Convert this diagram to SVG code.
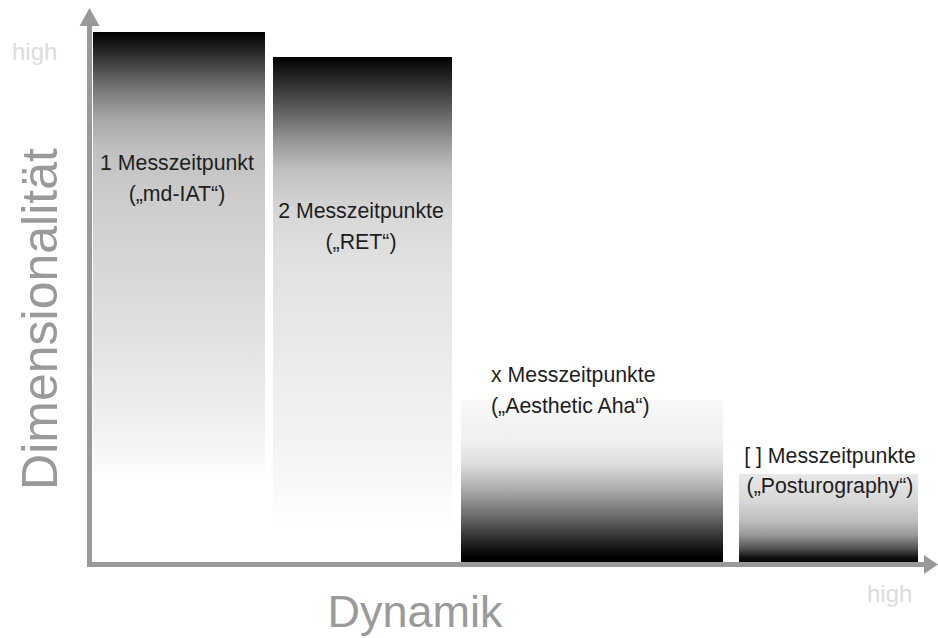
<svg xmlns="http://www.w3.org/2000/svg" width="938" height="638" viewBox="0 0 938 638">
  <style>
    .lbl { font-family: "Liberation Sans", Arial, sans-serif; font-size: 21.3px; fill: #1e1e1e; }
    .mid { text-anchor: middle; }
    .axis-title { font-family: "Liberation Sans", Arial, sans-serif; fill: #9a9a9a; text-anchor: middle; }
    .high { font-family: "Liberation Sans", Arial, sans-serif; font-size: 24px; fill: #dcdcdc; }
    .axis { stroke: #999999; stroke-width: 5; fill: none; }
  </style>
  <defs>
    <!-- tall bars: black at the top, fading to white towards the baseline -->
    <linearGradient id="fade1" gradientUnits="userSpaceOnUse" x1="0" y1="32" x2="0" y2="562">
      <stop offset="0" stop-color="#000000"/>
      <stop offset="0.053" stop-color="#3a3a3a"/>
      <stop offset="0.11" stop-color="#7a7a7a"/>
      <stop offset="0.166" stop-color="#a8a8a8"/>
      <stop offset="0.223" stop-color="#c0c0c0"/>
      <stop offset="0.317" stop-color="#cdcdcd"/>
      <stop offset="0.506" stop-color="#dcdcdc"/>
      <stop offset="0.694" stop-color="#ececec"/>
      <stop offset="0.789" stop-color="#f6f6f6"/>
      <stop offset="0.85" stop-color="#ffffff"/>
      <stop offset="1" stop-color="#ffffff"/>
    </linearGradient>
    <linearGradient id="fade2" gradientUnits="userSpaceOnUse" x1="0" y1="57" x2="0" y2="562">
      <stop offset="0" stop-color="#000000"/>
      <stop offset="0.046" stop-color="#2a2a2a"/>
      <stop offset="0.105" stop-color="#5e5e5e"/>
      <stop offset="0.164" stop-color="#959595"/>
      <stop offset="0.224" stop-color="#c0c0c0"/>
      <stop offset="0.303" stop-color="#d6d6d6"/>
      <stop offset="0.402" stop-color="#e1e1e1"/>
      <stop offset="0.580" stop-color="#eaeaea"/>
      <stop offset="0.778" stop-color="#f4f4f4"/>
      <stop offset="0.937" stop-color="#ffffff"/>
      <stop offset="1" stop-color="#ffffff"/>
    </linearGradient>
    <!-- low bars: light on top, darkening to black at the baseline -->
    <linearGradient id="fade3" gradientUnits="userSpaceOnUse" x1="0" y1="400" x2="0" y2="562">
      <stop offset="0" stop-color="#f8f8f8"/>
      <stop offset="0.25" stop-color="#f0f0f0"/>
      <stop offset="0.40" stop-color="#dcdcdc"/>
      <stop offset="0.556" stop-color="#aaaaaa"/>
      <stop offset="0.71" stop-color="#6e6e6e"/>
      <stop offset="0.864" stop-color="#2a2a2a"/>
      <stop offset="0.975" stop-color="#000000"/>
      <stop offset="1" stop-color="#000000"/>
    </linearGradient>
    <linearGradient id="fade4" gradientUnits="userSpaceOnUse" x1="0" y1="474" x2="0" y2="562">
      <stop offset="0" stop-color="#e8e8e8"/>
      <stop offset="0.3" stop-color="#d8d8d8"/>
      <stop offset="0.52" stop-color="#c0c0c0"/>
      <stop offset="0.69" stop-color="#999999"/>
      <stop offset="0.84" stop-color="#555555"/>
      <stop offset="0.95" stop-color="#111111"/>
      <stop offset="1" stop-color="#000000"/>
    </linearGradient>
  </defs>

  <rect width="938" height="638" fill="#ffffff"/>

  <!-- bars -->
  <g id="bar-md-iat">
    <rect x="93" y="32" width="172" height="530" fill="url(#fade1)"/>
    <text class="lbl mid" x="177" y="170">1 Messzeitpunkt</text>
    <text class="lbl mid" x="177" y="201">(„md-IAT“)</text>
  </g>
  <g id="bar-ret">
    <rect x="273" y="57" width="179" height="505" fill="url(#fade2)"/>
    <text class="lbl mid" x="361" y="218">2 Messzeitpunkte</text>
    <text class="lbl mid" x="361" y="249">(„RET“)</text>
  </g>
  <g id="bar-aesthetic-aha">
    <rect x="461" y="400" width="262" height="162" fill="url(#fade3)"/>
    <text class="lbl" x="491" y="382">x Messzeitpunkte</text>
    <text class="lbl" x="491" y="413">(„Aesthetic Aha“)</text>
  </g>
  <g id="bar-posturography">
    <rect x="739" y="474" width="179" height="88" fill="url(#fade4)"/>
    <text class="lbl mid" x="830" y="463">[ ] Messzeitpunkte</text>
    <text class="lbl mid" x="830" y="493">(„Posturography“)</text>
  </g>

  <!-- axes -->
  <g id="axes">
    <path class="axis" d="M89.5,566 V22 M87,564.5 H926"/>
    <polygon points="89.5,8 79.5,26 99.5,26" fill="#999999"/>
    <polygon points="938,564.5 924,555 924,574" fill="#999999"/>
  </g>

  <!-- axis titles -->
  <g id="axis-labels">
    <text class="axis-title" font-size="50" transform="translate(57,319) rotate(-90)">Dimensionalität</text>
    <text class="axis-title" font-size="45" x="415" y="627">Dynamik</text>
    <text class="high" x="12" y="60">high</text>
    <text class="high" x="867" y="602">high</text>
  </g>
</svg>
